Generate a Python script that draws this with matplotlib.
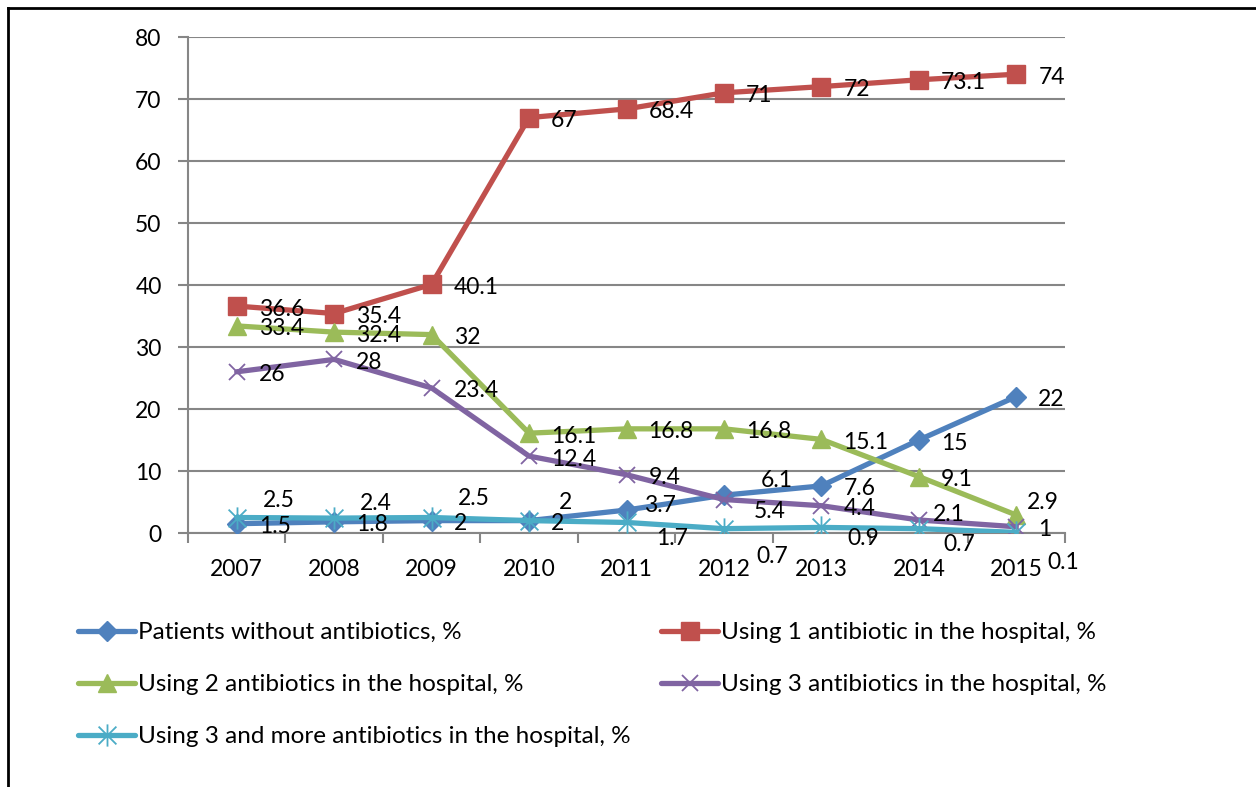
import matplotlib.pyplot as plt
from matplotlib.lines import Line2D
from matplotlib.path import Path

# Datos
years = ["2007", "2008", "2009", "2010", "2011", "2012", "2013", "2014", "2015"]
no_antibiotics = [1.5, 1.8, 2, 2, 3.7, 6.1, 7.6, 15, 22]
one_antibiotic = [36.6, 35.4, 40.1, 67, 68.4, 71, 72, 73.1, 74]
two_antibiotics = [33.4, 32.4, 32, 16.1, 16.8, 16.8, 15.1, 9.1, 2.9]
three_antibiotics = [26, 28, 23.4, 12.4, 9.4, 5.4, 4.4, 2.1, 1]
three_more = [2.5, 2.4, 2.5, 2, 1.7, 0.7, 0.9, 0.7, 0.1]

labels = ["Patients without antibiotics, %",
          "Using 1 antibiotic in the hospital, %",
          "Using 2 antibiotics in the hospital, %",
          "Using 3 antibiotics in the hospital, %",
          "Using 3 and more antibiotics in the hospital, %"]

# Marcador "estrella" de Excel: X + línea vertical
star = Path([(-1, -1), (1, 1), (-1, 1), (1, -1), (0, -1.25), (0, 1.25)],
            [Path.MOVETO, Path.LINETO, Path.MOVETO, Path.LINETO, Path.MOVETO, Path.LINETO])

series = [no_antibiotics, one_antibiotic, two_antibiotics, three_antibiotics, three_more]
colors = ["#4F81BD", "#C0504D", "#9BBB59", "#8064A2", "#4BACC6"]
markers = ["D", "s", "^", "x", star]
msizes = [10.5, 13, 12.5, 11, 16]

# Desplazamientos de etiquetas (pixeles) distintos del por defecto
label_offsets = {
    (0, 4): (18, 5), (0, 5): (37, 15),
    (2, 8): (11, 13),
    (3, 5): (30, -12), (3, 7): (14, 5),
    (4, 0): (26, 17), (4, 1): (26, 15), (4, 2): (26, 19), (4, 3): (30, 18),
    (4, 4): (30, -16), (4, 5): (32, -28), (4, 6): (26, -11), (4, 7): (25, -16),
    (4, 8): (31, -30),
}

plt.rcParams['font.family'] = ['Lato', 'DejaVu Sans']
fig = plt.figure(figsize=(12.56, 7.87), dpi=100)
ax = fig.add_axes([188 / 1256, 1 - 533 / 787, (1065 - 188) / 1256, (533 - 37) / 787])

x = list(range(len(years)))
handles = []
for k, vals in enumerate(series):
    thin = k >= 3
    h, = ax.plot(x, vals, color=colors[k], lw=3.8, marker=markers[k], ms=msizes[k],
                 mew=1.3 if thin else 1, mec=colors[k], label=labels[k],
                 solid_joinstyle='round', solid_capstyle='round', zorder=3)
    handles.append(h)
for k, vals in enumerate(series):
    for i, v in enumerate(vals):
        dx, dy = label_offsets.get((k, i), (22, -3))
        ax.annotate(f"{v:g}", (i, v), xytext=(dx, dy), textcoords='offset pixels',
                    ha='left', va='center', fontsize=16.5, color='black', zorder=5)

ax.set_xlim(-0.5, len(years) - 0.5)
ax.set_ylim(0, 80)
ax.set_yticks(range(0, 81, 10))
ax.set_xticks([i + 0.5 for i in range(-1, len(years))])
ax.set_xticklabels([])
ax.set_xticks(x, minor=True)
ax.set_xticklabels(years, minor=True)
ax.tick_params(axis='x', which='minor', length=0, pad=19, labelsize=16.5)
ax.tick_params(axis='x', which='major', length=7, width=1.5, color='#868686', direction='out')
ax.tick_params(axis='y', length=7, width=1.5, color='#868686', pad=12, labelsize=16.5)
ax.grid(axis='y', color='#868686', lw=1.5)
ax.set_axisbelow(True)
for s in ['top', 'right']:
    ax.spines[s].set_visible(False)
for s in ['left', 'bottom']:
    ax.spines[s].set_color('#868686')
    ax.spines[s].set_linewidth(1.5)

# Leyenda en filas: el orden se reparte por columnas
order = [0, 2, 4, 1, 3]
fig.legend([handles[i] for i in order], [labels[i] for i in order], ncol=2,
           loc='upper left', bbox_to_anchor=(78 / 1256, 1 - 622 / 787),
           frameon=False, fontsize=17.5, handlelength=2.35, handletextpad=0.12,
           columnspacing=1.25, labelspacing=1.28, borderpad=0, borderaxespad=0)

# Marco del gráfico
fig.add_artist(Line2D([8 / 1256, 1], [1 - 8 / 787, 1 - 8 / 787], color='black', lw=2))
fig.add_artist(Line2D([8 / 1256, 8 / 1256], [0, 1 - 8 / 787], color='black', lw=2))

fig.savefig("out.png", dpi=100)
